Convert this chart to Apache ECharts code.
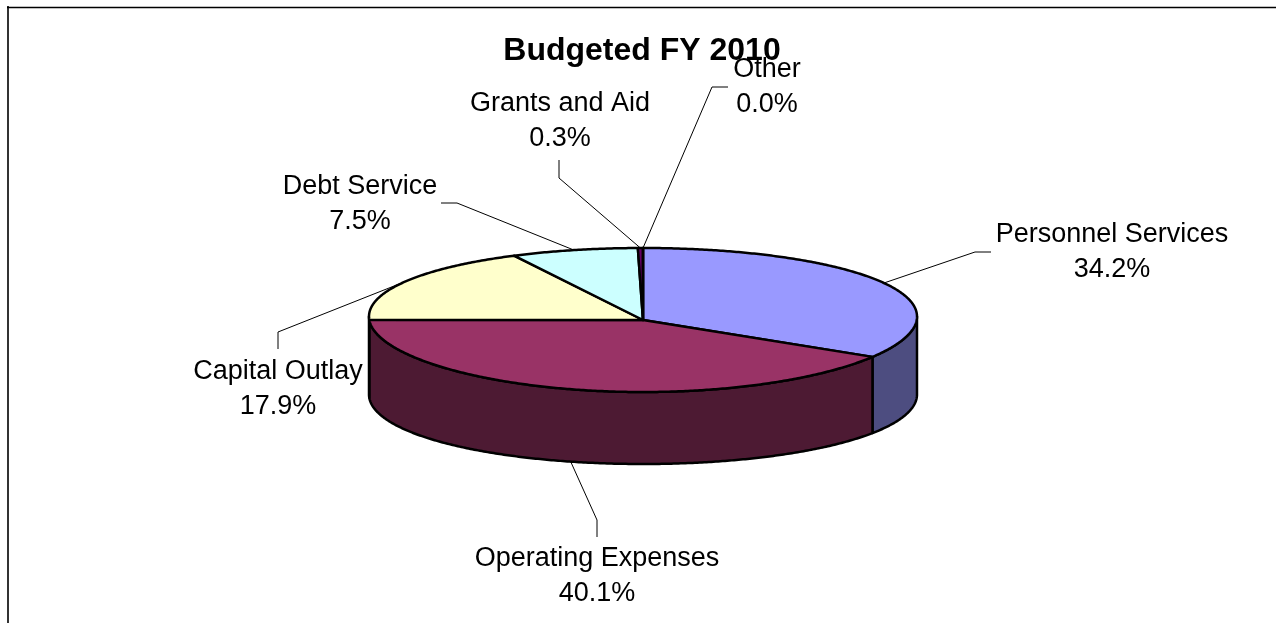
<!DOCTYPE html>
<html>
<head>
<meta charset="utf-8">
<style>html,body{margin:0;padding:0;background:#fff}#chart{width:1276px;height:623px}</style>
<script src="https://cdn.jsdelivr.net/npm/echarts@6/dist/echarts.min.js"></script>
</head>
<body>
<div id="chart"></div>
<script>
// Budget shares for FY 2010, percent of the total
var categories = ['Personnel Services', 'Operating Expenses', 'Capital Outlay', 'Debt Service', 'Grants and Aid', 'Other'];
var shares = [34.2, 40.1, 17.9, 7.5, 0.3, 0.0];
var topColors = ['#9999FF', '#993366', '#FFFFCC', '#CCFFFF', '#660066', '#FF8080'];
var sideColors = ['#4D4D80', '#4D1A33', '#808066', '#668080', '#330033', '#804040'];

// Geometry of the tilted disc; the skew terms give the rims a slight perspective
var cx = 643, cy = 320, rx = 274, ry = 72, depth = 72, topSkew = -3.5, bottomSkew = 2.5;

// Leader elbow, leader end and label centre for each slice
var elbows = [[975, 252], [597, 520], [278, 332], [457, 203], [559, 178], [712, 87]];
var ends = [[991, 252], [597, 537], [278, 349], [441, 203], [559, 160], [728, 87]];
var labelCentres = [[1112, 252], [597, 576], [278, 389], [360, 204], [560, 121], [767, 87]];

var total = shares.reduce(function (a, b) { return a + b; }, 0);
var spans = [];
shares.reduce(function (acc, v) {
  var next = acc + v / total * 360;
  spans.push([acc, next]);
  return next;
}, 0);

function rimPoint(deg, lower) {
  var t = deg * Math.PI / 180, s = Math.sin(t), c = Math.cos(t);
  var y = lower ? cy + depth - ry * c + bottomSkew * s * s : cy - ry * c + topSkew * s * s;
  return [cx + rx * s, y];
}
function arcPoints(from, to, lower) {
  var pts = [], n = Math.max(2, Math.ceil(Math.abs(to - from) * 2));
  for (var i = 0; i <= n; i++) pts.push(rimPoint(from + (to - from) * i / n, lower));
  return pts;
}

var faceStroke = { stroke: '#000', lineWidth: 2.5, lineJoin: 'round' };

function renderTop(params, api) {
  var i = api.value(0), s = spans[i];
  var pts = [[cx, cy]].concat(arcPoints(s[0], s[1]));
  return { type: 'polygon', shape: { points: pts },
    style: Object.assign({ fill: topColors[i] }, faceStroke) };
}
function renderSide(params, api) {
  var i = api.value(0), s = spans[i];
  var from = Math.max(s[0], 90), to = Math.min(s[1], 270);
  if (to <= from) return null;
  var pts = arcPoints(from, to).concat(arcPoints(to, from, true));
  return { type: 'polygon', shape: { points: pts },
    style: Object.assign({ fill: sideColors[i] }, faceStroke) };
}
function renderLeader(params, api) {
  var i = api.value(0), s = spans[i], mid = (s[0] + s[1]) / 2;
  var start = rimPoint(mid, mid > 120 && mid < 240);
  return { type: 'polyline', shape: { points: [start, elbows[i], ends[i]] },
    style: { stroke: '#000', lineWidth: 1, fill: null } };
}
function renderLabel(params, api) {
  var i = api.value(0), c = labelCentres[i];
  return { type: 'text', x: c[0], y: c[1],
    style: { text: categories[i] + '\n' + shares[i].toFixed(1) + '%', fill: '#000',
      font: '27px "Liberation Sans", Arial, sans-serif', lineHeight: 35,
      align: 'center', verticalAlign: 'middle' } };
}

var indexData = categories.map(function (c, i) { return [i]; });
function layer(fn) {
  return { type: 'custom', coordinateSystem: 'none', renderItem: fn, data: indexData,
    silent: true, animation: false, encode: { value: 0 } };
}

var chart = echarts.init(document.getElementById('chart'), null, { renderer: 'canvas' });
chart.setOption({
  animation: false,
  backgroundColor: '#fff',
  title: {
    text: 'Budgeted FY 2010', left: 637, top: 30, textAlign: 'center',
    textStyle: { fontFamily: '"Liberation Sans", Arial, sans-serif', fontWeight: 'bold', fontSize: 32, color: '#000' }
  },
  graphic: [{
    type: 'line', silent: true, shape: { x1: 8, y1: 6, x2: 8, y2: 623 },
    style: { stroke: '#333', lineWidth: 2 }
  }, {
    type: 'line', silent: true, shape: { x1: 7, y1: 7.5, x2: 1276, y2: 7.5 },
    style: { stroke: '#000', lineWidth: 1.4 }
  }],
  series: [layer(renderLeader), layer(renderSide), layer(renderTop), layer(renderLabel)]
});
</script>
</body>
</html>
